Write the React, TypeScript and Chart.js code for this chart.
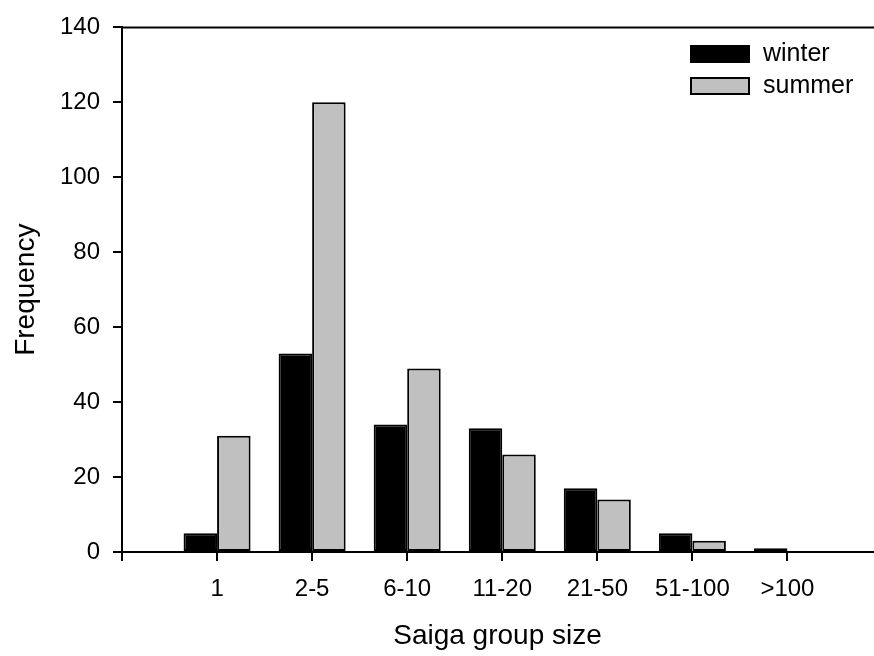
import React, { useEffect, useRef } from "react";
import { Chart, registerables } from "chart.js";

Chart.register(...registerables);

const categories = ["1", "2-5", "6-10", "11-20", "21-50", "51-100", ">100"];
const winterValues = [5, 53, 34, 33, 17, 5, 1];
const summerValues = [31, 120, 49, 26, 14, 3, 0];
const yTicks = [0, 20, 40, 60, 80, 100, 120, 140];

const FONT = "'Liberation Sans', Arial, Helvetica, sans-serif";

const frameAndLegend = {
  id: "frameAndLegend",
  afterDraw(chart: any) {
    const { ctx, chartArea } = chart;
    ctx.save();
    // top frame line
    ctx.strokeStyle = "#000";
    ctx.lineWidth = 2;
    ctx.beginPath();
    ctx.moveTo(chartArea.left - 1, chartArea.top);
    ctx.lineTo(chartArea.right + 1, chartArea.top);
    ctx.stroke();
    // legend
    const boxX = 691;
    const boxW = 58;
    const boxH = 16;
    const rowY = [46, 78];
    chart.data.datasets.forEach((ds: any, i: number) => {
      const y = rowY[i];
      ctx.fillStyle = ds.backgroundColor;
      ctx.fillRect(boxX, y, boxW, boxH);
      ctx.strokeStyle = "#000";
      ctx.lineWidth = 2;
      ctx.strokeRect(boxX, y, boxW, boxH);
      ctx.fillStyle = "#000";
      ctx.font = `25px ${FONT}`;
      ctx.textBaseline = "middle";
      ctx.textAlign = "left";
      ctx.fillText(ds.label, 763, y + boxH / 2);
    });
    ctx.restore();
  },
};

export default function App() {
  const ref = useRef<HTMLCanvasElement | null>(null);

  useEffect(() => {
    if (!ref.current) return;
    const chart = new Chart(ref.current, {
      type: "bar",
      data: {
        datasets: [
          {
            label: "winter",
            data: winterValues.map((v, i) => ({ x: i + 1, y: v })),
            backgroundColor: "#000000",
            borderColor: "#000000",
            borderWidth: 2,
            borderSkipped: false,
          },
          {
            label: "summer",
            data: summerValues.map((v, i) => ({ x: i + 1, y: v })),
            backgroundColor: "#c0c0c0",
            borderColor: "#000000",
            borderWidth: 2,
            borderSkipped: false,
          },
        ],
      },
      options: {
        responsive: false,
        animation: false,
        layout: { padding: { top: 21, right: 1, left: 0, bottom: 0 } },
        datasets: {
          bar: { categoryPercentage: 0.705, barPercentage: 1 },
        },
        plugins: {
          legend: { display: false },
          tooltip: { enabled: false },
        },
        scales: {
          x: {
            type: "linear",
            min: 0,
            max: 7.9,
            offset: false,
            grid: {
              display: true,
              offset: false,
              drawOnChartArea: false,
              drawTicks: true,
              tickLength: 9,
              color: "#000",
              lineWidth: 2,
            },
            border: { display: true, color: "#000", width: 2 },
            ticks: {
              stepSize: 1,
              includeBounds: false,
              autoSkip: false,
              maxRotation: 0,
              padding: 14,
              color: "#000",
              font: { family: FONT, size: 24 },
              callback: (v: any) => {
                const idx = Math.round(Number(v)) - 1;
                return idx >= 0 && idx < categories.length ? categories[idx] : "";
              },
            },
            title: {
              display: true,
              text: "Saiga group size",
              color: "#000",
              font: { family: FONT, size: 28 },
              padding: { top: 0, bottom: 3 },
            },
            afterFit: (scale: any) => {
              scale.height = 104;
            },
          },
          y: {
            min: 0,
            max: 140,
            grid: {
              display: true,
              drawOnChartArea: false,
              drawTicks: true,
              tickLength: 9,
              color: "#000",
              lineWidth: 2,
            },
            border: { display: true, color: "#000", width: 2 },
            ticks: {
              stepSize: 20,
              padding: 13,
              color: "#000",
              font: { family: FONT, size: 24 },
              callback: (v: any) => (yTicks.includes(Number(v)) ? String(v) : ""),
            },
            title: {
              display: true,
              text: "Frequency",
              color: "#000",
              font: { family: FONT, size: 28 },
              padding: { top: 9, bottom: 0 },
            },
            afterFit: (scale: any) => {
              scale.width = 122;
            },
          },
        },
      },
      plugins: [frameAndLegend],
    } as any);
    return () => chart.destroy();
  }, []);

  return (
    <div style={{ position: "absolute", left: 0, top: 0, width: 874, height: 656, background: "#fff" }}>
      <canvas ref={ref} width={874} height={656} style={{ display: "block" }} />
    </div>
  );
}
